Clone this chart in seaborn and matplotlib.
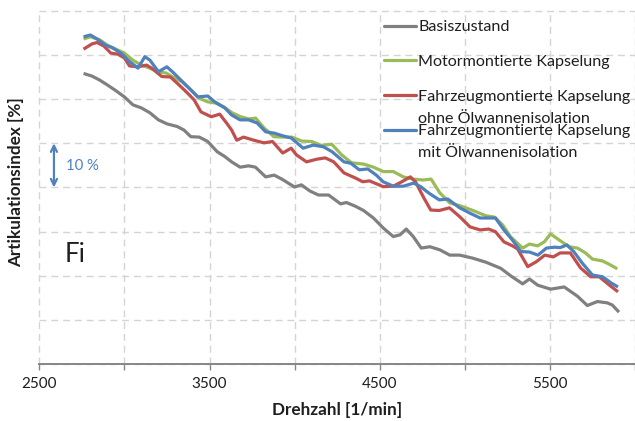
import matplotlib
matplotlib.use("Agg")
import matplotlib.pyplot as plt
from matplotlib.lines import Line2D
import pandas as pd
import seaborn as sns

# ---------------- data ----------------
rpm_basis = [2760, 2810, 2855, 2900, 2950, 3000, 3050, 3100, 3150, 3200, 3250, 3310, 3350, 3390, 3440,
             3490, 3545, 3590, 3630, 3680, 3730, 3770, 3830, 3880, 3925, 4000, 4040, 4090, 4140, 4200,
             4270, 4305, 4355, 4405, 4463, 4522, 4580, 4620, 4656, 4697, 4744, 4795, 4853, 4912, 4970,
             5048, 5124, 5212, 5270, 5340, 5380, 5428, 5504, 5584, 5662, 5720, 5779, 5837, 5867, 5906]
val_basis = [65.8, 65.2, 64.3, 63.2, 61.9, 60.5, 58.7, 58.0, 56.9, 55.3, 54.4, 53.8, 53.0, 51.5, 51.4,
             50.4, 48.1, 47.0, 45.8, 44.6, 44.9, 44.6, 42.4, 42.8, 41.9, 40.1, 40.6, 39.2, 38.3, 38.3,
             36.3, 36.6, 35.8, 34.8, 33.1, 30.8, 28.9, 29.3, 30.6, 28.9, 26.3, 26.6, 25.9, 24.7, 24.7,
             24.0, 23.1, 21.7, 20.0, 18.2, 19.3, 17.9, 17.0, 17.5, 15.4, 13.3, 14.2, 13.9, 13.4, 11.8]

rpm_motor = [2760, 2800, 2855, 2900, 2950, 3000, 3050, 3100, 3150, 3195, 3245, 3294, 3340, 3391, 3440,
             3487, 3537, 3586, 3633, 3684, 3732, 3771, 3820, 3878, 3937, 3984, 4042, 4101, 4159, 4218,
             4276, 4334, 4405, 4463, 4522, 4580, 4639, 4697, 4756, 4802, 4853, 4912, 4970, 5048, 5124,
             5175, 5223, 5270, 5340, 5380, 5428, 5467, 5504, 5555, 5613, 5662, 5709, 5750, 5808, 5855, 5896]
val_motor = [73.6, 74.1, 73.4, 72.2, 71.3, 70.4, 68.8, 67.7, 67.0, 66.2, 65.9, 64.8, 63.9, 62.1, 60.2,
             59.4, 59.1, 58.2, 56.9, 56.0, 55.5, 55.7, 53.5, 51.5, 51.4, 51.4, 50.5, 50.4, 49.5, 49.8,
             47.4, 45.6, 45.3, 44.6, 43.6, 43.6, 42.4, 41.9, 41.7, 41.9, 38.8, 36.5, 35.9, 34.8, 33.6,
             33.3, 31.5, 28.8, 26.3, 27.2, 26.8, 27.7, 29.5, 28.1, 26.6, 26.3, 25.2, 23.8, 23.4, 22.5, 21.6]

rpm_ohne = [2760, 2810, 2840, 2880, 2920, 2960, 3000, 3030, 3080, 3130, 3160, 3220, 3270, 3310, 3370,
            3410, 3450, 3510, 3560, 3600, 3630, 3660, 3700, 3760, 3820, 3870, 3930, 3980, 4010, 4070,
            4130, 4180, 4230, 4290, 4360, 4400, 4440, 4520, 4580, 4630, 4680, 4710, 4760, 4800, 4850,
            4910, 4970, 5030, 5090, 5140, 5180, 5230, 5280, 5310, 5370, 5420, 5470, 5520, 5560, 5620,
            5680, 5740, 5790, 5850, 5900]
val_ohne = [71.3, 72.5, 72.8, 72.0, 70.4, 70.2, 69.3, 67.5, 67.3, 67.7, 67.0, 65.1, 65.0, 63.6, 61.4,
            59.8, 57.1, 56.0, 56.6, 54.6, 53.0, 50.7, 51.4, 50.7, 50.1, 50.4, 47.8, 48.9, 47.4, 45.8,
            46.4, 46.7, 45.8, 43.3, 42.1, 41.3, 41.5, 40.2, 40.3, 41.3, 42.4, 41.3, 37.6, 34.9, 34.8,
            35.4, 33.4, 31.1, 30.4, 30.6, 30.0, 27.7, 26.8, 26.1, 22.1, 23.2, 24.7, 24.3, 25.2, 25.2,
            21.8, 19.8, 19.8, 17.9, 16.4]

rpm_mit = [2760, 2800, 2840, 2890, 2930, 2980, 3030, 3080, 3120, 3150, 3200, 3250, 3290, 3350, 3400,
           3430, 3490, 3530, 3590, 3630, 3680, 3730, 3780, 3830, 3880, 3930, 3980, 4050, 4110, 4170,
           4220, 4290, 4330, 4380, 4430, 4480, 4520, 4580, 4640, 4700, 4740, 4790, 4850, 4900, 4970,
           5030, 5090, 5140, 5180, 5230, 5280, 5330, 5380, 5430, 5480, 5530, 5560, 5600, 5640, 5690,
           5750, 5810, 5860, 5900]
val_mit = [74.1, 74.5, 73.6, 72.2, 71.6, 70.4, 68.5, 67.0, 69.6, 68.8, 66.2, 67.3, 65.9, 63.6, 61.7,
           60.5, 60.7, 59.4, 58.0, 56.4, 55.3, 55.3, 54.6, 52.6, 52.3, 51.7, 51.2, 48.9, 49.6, 49.2,
           48.1, 45.8, 45.5, 44.0, 44.2, 42.8, 41.3, 40.3, 40.3, 41.0, 40.2, 38.7, 37.2, 37.4, 35.4,
           34.2, 33.1, 33.1, 33.1, 30.4, 28.1, 25.5, 25.4, 24.7, 26.3, 26.5, 26.4, 27.0, 25.5, 22.9,
           20.2, 19.8, 18.4, 17.5]

series_first_lines = ["Basiszustand", "Motormontierte Kapselung",
                      "Fahrzeugmontierte Kapselung", "Fahrzeugmontierte Kapselung"]
series_second_lines = [None, None, "ohne Ölwannenisolation", "mit Ölwannenisolation"]
colors = ["#808080", "#9BBB59", "#C0504D", "#4F81BD"]

x_ticks = [2500, 3000, 3500, 4000, 4500, 5000, 5500, 6000]
x_ticklabels = ["2500", "", "3500", "", "4500", "", "5500", ""]
y_grid = [0, 10, 20, 30, 40, 50, 60, 70, 80]
ref_low, ref_high = 40, 50   # the "10 %" scale bar

# ---------------- style ----------------
sns.set_theme(style="white")
plt.rcParams['font.family'] = ['Lato', 'DejaVu Sans']
text_color = "#1e1e1e"
leg_fs = 11.6

fig = plt.figure(figsize=(6.35, 4.21), dpi=100)
ax = fig.add_axes([39.3 / 635, 56.7 / 421, (635 - 39.3) / 635, 353.6 / 421])

datasets = [(rpm_basis, val_basis), (rpm_motor, val_motor), (rpm_ohne, val_ohne), (rpm_mit, val_mit)]
for (xs, ys), c in zip(datasets, colors):
    df = pd.DataFrame({"Drehzahl": xs, "Index": ys})
    sns.lineplot(data=df, x="Drehzahl", y="Index", ax=ax, color=c, lw=2.3,
                 legend=False, solid_joinstyle="round", solid_capstyle="butt")

ax.set_xlim(2500, 5984)
ax.set_ylim(0, 80)
ax.set_xticks(x_ticks)
ax.set_xticklabels(x_ticklabels)
ax.set_yticks(y_grid)
ax.set_yticklabels([])
ax.tick_params(axis="y", length=0)
ax.tick_params(axis="x", length=4, width=1, color="#868686", direction="out",
               labelsize=11, labelcolor=text_color, pad=5, bottom=True)

ax.grid(True, color="#D4D4D4", linestyle=(0, (5, 3.5)), lw=1)
for gl in ax.get_xgridlines() + ax.get_ygridlines():
    gl.set_clip_on(False)

for s in ["top", "right", "left"]:
    ax.spines[s].set_visible(False)
ax.spines["bottom"].set_color("#868686")
ax.spines["bottom"].set_linewidth(1.4)
ax.spines["bottom"].set_zorder(3)

ax.set_xlabel("Drehzahl [1/min]", fontsize=12.3, fontweight="bold", color=text_color)
ax.xaxis.set_label_coords(0.5, -(410 - 364.3) / 353.6)
ax.xaxis.label.set_va("center")
ax.set_ylabel("Artikulationsindex [%]", fontsize=12.3, fontweight="bold", color=text_color)
ax.yaxis.set_label_coords((16 - 39.3) / 595.7, (364.3 - 182) / 353.6)
ax.yaxis.label.set_va("center")

# "Fi" label and 10 % scale bar
ax.text(2650, 23.2, "Fi", fontsize=18.5, color=text_color, va="baseline", ha="left")
ax.annotate("", xy=(2586, ref_high), xytext=(2586, ref_low),
            arrowprops=dict(arrowstyle="<->", color="#4F81BD", lw=1.6,
                            shrinkA=0, shrinkB=0, mutation_scale=11))
ax.text(2656, 44.0, "10 %", fontsize=10.7, color="#4F81BD", va="baseline", ha="left")

# legend
handles = [Line2D([], [], color=c, lw=2.3) for c in colors]
leg = ax.legend(handles, series_first_lines, loc="upper left",
                bbox_to_anchor=(384 / 635, 1 - 20 / 421), bbox_transform=fig.transFigure,
                frameon=False, borderpad=0, borderaxespad=0, handlelength=2.0,
                handletextpad=0.12, labelspacing=1.27, fontsize=leg_fs)
for t in leg.get_texts():
    t.set_color(text_color)

fig.canvas.draw()
texts = leg.get_texts()
for i, second in enumerate(series_second_lines):
    if second:
        ax.annotate(second, xy=(0, 0), xycoords=texts[i], xytext=(0, -22),
                    textcoords="offset pixels", va="bottom", ha="left",
                    fontsize=leg_fs, color=text_color, zorder=6)

fig.savefig("out.png", dpi=100)
